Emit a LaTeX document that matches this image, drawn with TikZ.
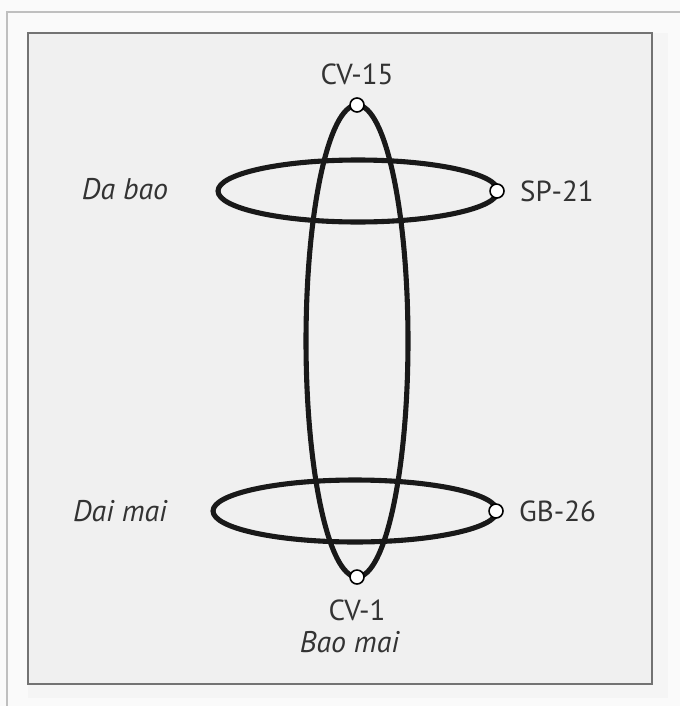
\documentclass[tikz,border=0pt]{standalone}
\usepackage{fontspec}
\setmainfont{PT Sans}
\usetikzlibrary{positioning}

\begin{document}
\begin{tikzpicture}[
    x=0.02cm, y=-0.02cm,
    point/.style={
        circle,
        draw,
        fill=white,
        line width=0.9pt,
        inner sep=0pt,
        minimum size=0.28cm
    },
    channel/.style={draw=black!90, line width=2.9pt},
    lbl/.style={
        inner sep=0pt,
        text=black!80,
        font=\fontsize{16.5}{19}\selectfont
    },
    vessel/.style={lbl, font=\fontsize{17}{20}\selectfont\itshape}
]

% frame
\useasboundingbox (0,0) rectangle (680,706);
\fill[white!98!black] (0,0) rectangle (680,706);
\draw[black!25, line width=0.8pt] (7,706) -- (7,12) -- (680,12);
\fill[black!4] (28,33) rectangle (668,698);
\draw[black!55, fill=black!6, line width=0.7pt] (28,33) rectangle (652,684);

% channels
\draw[channel] (358,191) ellipse [x radius=2.8cm, y radius=0.62cm];
\draw[channel] (355,511) ellipse [x radius=2.84cm, y radius=0.62cm];
\draw[channel] (357,341) ellipse [x radius=1.02cm, y radius=4.72cm];

% points
\node[point] (cv15) at (357,105) {};
\node[point] (sp21) at (497,191) {};
\node[point] (gb26) at (496,511) {};
\node[point] (cv1) at (357,577) {};

% labels
\node[lbl, above=0.24cm of cv15] (cv15l) {CV-15};
\node[lbl, right=0.3cm of sp21] (sp21l) {SP-21};
\node[lbl, right=0.3cm of gb26] (gb26l) {GB-26};
\node[lbl, below=0.3cm of cv1] (cv1l) {CV-1};
\node[vessel, below=0.2cm of cv1l, xshift=-0.15cm] (baomai) {Bao mai};
\node[vessel] (dabao) at (125,189) {Da bao};
\node[vessel] (daimai) at (120,511) {Dai mai};

\end{tikzpicture}
\end{document}
